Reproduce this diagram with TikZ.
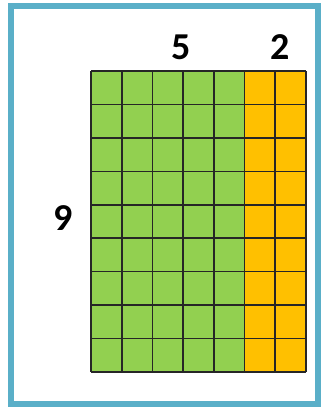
\documentclass[tikz,border=0pt]{standalone}
\usepackage{fontspec}
\setmainfont{Carlito}
\definecolor{gridgreen}{HTML}{92D050}
\definecolor{gridorange}{HTML}{FFC000}
\definecolor{framecol}{HTML}{5AAFC8}
\begin{document}
\begin{tikzpicture}[x=1pt,y=-1pt,
  gridline/.style={draw=black!85,line width=1.6pt},
  lbl/.style={font=\fontsize{38}{38}\selectfont\bfseries,inner sep=0pt}]
\useasboundingbox (0,0) rectangle (323,407);
\draw[framecol,line width=6pt] (11,6) rectangle (318,404);
\foreach \c in {0,...,6}{
  \ifnum\c<5 \def\fc{gridgreen}\else\def\fc{gridorange}\fi
  \foreach \r in {0,...,8}{
    \fill[\fc] ({91+\c*30.71},{71+\r*33.44}) rectangle ++(30.71,33.44);
  }
}
\foreach \c in {0,...,7}{\draw[gridline] ({91+\c*30.71},71) -- ({91+\c*30.71},372);}
\foreach \r in {0,...,9}{\draw[gridline] (91,{71+\r*33.44}) -- (306,{71+\r*33.44});}
\node[lbl] (five) at (181,47) {5};
\node[lbl] (two) at (280,47) {2};
\node[lbl] (nine) at (63,218) {9};
\end{tikzpicture}
\end{document}
